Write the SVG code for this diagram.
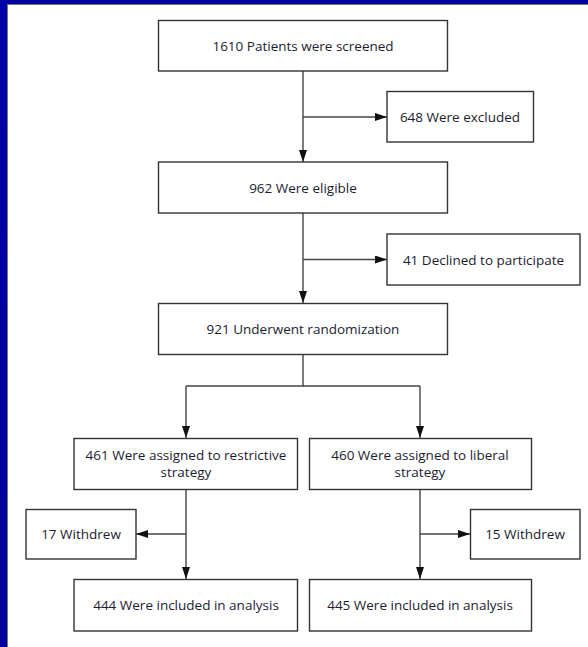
<svg xmlns="http://www.w3.org/2000/svg" width="588" height="647" viewBox="0 0 588 647">
<defs>
<linearGradient id="bg" x1="0" y1="0" x2="0" y2="1">
<stop offset="0" stop-color="#0000A8"/>
<stop offset="1" stop-color="#00009A"/>
</linearGradient>
<marker id="ah" viewBox="0 0 12 8" refX="12" refY="4" markerWidth="12" markerHeight="8" markerUnits="userSpaceOnUse" orient="auto">
<path d="M0,0 L12,4 L0,8 Z" fill="#111"/>
</marker>
<style>
.box{fill:#fff;stroke:#333;stroke-width:1.4}
.t{font-family:"Open Sans","Noto Sans","Liberation Sans",sans-serif;font-size:13.5px;fill:#1c1c30;text-anchor:middle}
.c{fill:none;stroke:#444;stroke-width:1.4}
</style>
</defs>
<rect x="0" y="0" width="588" height="647" fill="#fff"/>
<rect x="0" y="0" width="588" height="4" fill="url(#bg)"/>
<rect x="0" y="0" width="7" height="647" fill="url(#bg)"/>
<line x1="7" y1="4.5" x2="588" y2="4.5" stroke="#777" stroke-width="1"/>
<line x1="7.5" y1="4" x2="7.5" y2="647" stroke="#777" stroke-width="1"/>

<g id="connectors">
<line class="c" x1="303" y1="71" x2="303" y2="162" marker-end="url(#ah)"/>
<line class="c" x1="303" y1="117" x2="387" y2="117" marker-end="url(#ah)"/>
<line class="c" x1="303" y1="213" x2="303" y2="303" marker-end="url(#ah)"/>
<line class="c" x1="303" y1="259.5" x2="387" y2="259.5" marker-end="url(#ah)"/>
<polyline class="c" points="303,355 303,386 186,386"/>
<line class="c" x1="186" y1="386" x2="186" y2="438" marker-end="url(#ah)"/>
<polyline class="c" points="303,386 420,386 420,386"/>
<line class="c" x1="420" y1="386" x2="420" y2="438" marker-end="url(#ah)"/>
<line class="c" x1="186" y1="489" x2="186" y2="579" marker-end="url(#ah)"/>
<line class="c" x1="186" y1="534" x2="136" y2="534" marker-end="url(#ah)"/>
<line class="c" x1="420" y1="489" x2="420" y2="579" marker-end="url(#ah)"/>
<line class="c" x1="420" y1="534" x2="470" y2="534" marker-end="url(#ah)"/>
</g>

<g id="screened"><rect class="box" x="158.5" y="20.5" width="289" height="50.5"/><text class="t" x="303" y="50.5">1610 Patients were screened</text></g>
<g id="excluded"><rect class="box" x="387" y="91.5" width="146.5" height="50.5"/><text class="t" x="460" y="121.5">648 Were excluded</text></g>
<g id="eligible"><rect class="box" x="158.5" y="162" width="289" height="51"/><text class="t" x="303" y="192.5">962 Were eligible</text></g>
<g id="declined"><rect class="box" x="387" y="234" width="193" height="51"/><text class="t" x="483.5" y="264.5">41 Declined to participate</text></g>
<g id="randomized"><rect class="box" x="158.5" y="303.5" width="289" height="51"/><text class="t" x="303" y="333.5">921 Underwent randomization</text></g>
<g id="restrictive"><rect class="box" x="74" y="438.5" width="223.5" height="51"/><text class="t" x="186" y="459.5">461 Were assigned to restrictive</text><text class="t" x="186" y="476.5">strategy</text></g>
<g id="liberal"><rect class="box" x="309.5" y="438.5" width="222" height="51"/><text class="t" x="420" y="459.5">460 Were assigned to liberal</text><text class="t" x="420" y="476.5">strategy</text></g>
<g id="withdrew17"><rect class="box" x="26" y="509.5" width="110" height="49.5"/><text class="t" x="81" y="539">17 Withdrew</text></g>
<g id="withdrew15"><rect class="box" x="470.5" y="509.5" width="109.5" height="49.5"/><text class="t" x="525" y="539">15 Withdrew</text></g>
<g id="analysis444"><rect class="box" x="74" y="579.5" width="223.5" height="51.5"/><text class="t" x="186" y="609.5">444 Were included in analysis</text></g>
<g id="analysis445"><rect class="box" x="309.5" y="579.5" width="222" height="51.5"/><text class="t" x="420" y="609.5">445 Were included in analysis</text></g>
</svg>
